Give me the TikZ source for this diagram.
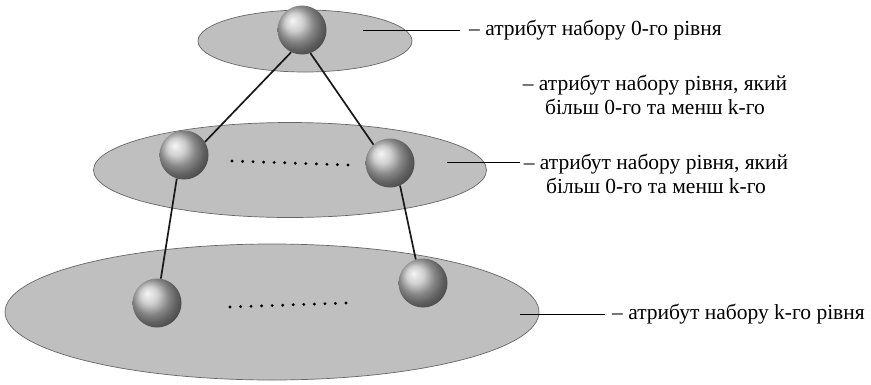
\documentclass[tikz,border=0pt]{standalone}
\usepackage{fontspec}
\setmainfont{Liberation Serif}
\usetikzlibrary{shapes.geometric,calc}

\tikzset{
	level/.style={ellipse, draw=black!60, fill=gray!50, line width=0.7pt, inner sep=0pt},
	atom/.style={circle, minimum size=49pt, inner sep=0pt, shading=ball, ball color=gray!50},
	bond/.style={line width=1.7pt, black!90},
	lead/.style={line width=1pt},
	descr/.style={font=\fontsize{21.5}{24}\selectfont, inner sep=0pt, align=center},
}

\begin{document}
\begin{tikzpicture}[x=1pt, y=-1pt]
	\useasboundingbox (0,0) rectangle (871,384);

	\node[level, minimum width=534pt, minimum height=136pt] (L2) at (272,312) {};
	\node[level, minimum width=393pt, minimum height=95pt] (L1) at (290,170) {};
	\node[level, minimum width=214pt, minimum height=62pt] (L0) at (305,41) {};

	\node[atom] (a1) at (302,30) {};
	\node[atom] (b1) at (184,155) {};
	\node[atom] (b2) at (390,163) {};
	\node[atom] (c1) at (157,303) {};
	\node[atom] (c2) at (423,283) {};

	\draw[bond] (a1.-116) -- (b1.32);
	\draw[bond] (a1.-70) -- (b2.132);
	\draw[bond] (b1.-107) -- (c1.81);
	\draw[bond] (b2.-66) -- (c2.107);

	% dots between the spheres
	\coordinate (d1) at (232,161);
	\coordinate (d2) at (348,165);
	\coordinate (e1) at (230,307);
	\coordinate (e2) at (346,303);
	\foreach \i in {0,...,11} {
		\fill ($(d1)!\i/11!(d2)$) circle (1.6pt);
		\fill ($(e1)!\i/11!(e2)$) circle (1.6pt);
	}

	\node[descr, anchor=west] (t0) at (469,30) {– атрибут набору 0-го рівня};
	\node[descr] (t1) at (655,95) {– атрибут набору рівня, який\\більш 0-го та менш k-го};
	\node[descr] (t2) at (656,174) {– атрибут набору рівня, який\\більш 0-го та менш k-го};
	\node[descr, anchor=west] (t3) at (612,314) {– атрибут набору k-го рівня};

	\coordinate (p0) at (363,30);
	\coordinate (p2) at (447,162);
	\coordinate (p3) at (520,314);
	\draw[lead] (p0) -- ([xshift=-9pt]t0.west);
	\draw[lead] (p2) -- ($(p2 -| t2.west)+(-4,0)$);
	\draw[lead] (p3) -- ([xshift=-7pt]t3.west);
\end{tikzpicture}
\end{document}
